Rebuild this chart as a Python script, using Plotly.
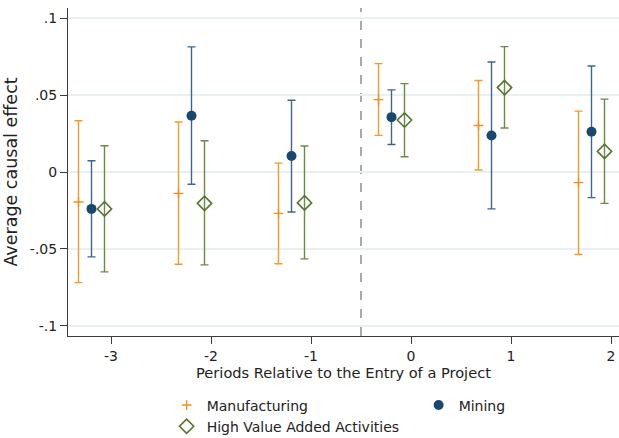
import plotly.graph_objects as go

# Event-time periods relative to project entry
periods = [-3, -2, -1, 0, 1, 2]
tick_labels = ["-3", "-2", "-1", "0", "1", "2"]

# Manufacturing: point estimates and 95% CI bounds
manuf_est = [-0.0195, -0.0139, -0.0269, 0.0471, 0.0303, -0.0069]
manuf_lo = [-0.0720, -0.0600, -0.0597, 0.0238, 0.0013, -0.0537]
manuf_hi = [0.0333, 0.0325, 0.0058, 0.0705, 0.0595, 0.0396]

# Mining
mining_est = [-0.0240, 0.0366, 0.0104, 0.0357, 0.0238, 0.0262]
mining_lo = [-0.0552, -0.0080, -0.0260, 0.0179, -0.0240, -0.0167]
mining_hi = [0.0073, 0.0814, 0.0467, 0.0534, 0.0716, 0.0690]

# High value added activities
hva_est = [-0.0240, -0.0204, -0.0201, 0.0338, 0.0549, 0.0134]
hva_lo = [-0.0650, -0.0604, -0.0565, 0.0099, 0.0286, -0.0204]
hva_hi = [0.0171, 0.0203, 0.0169, 0.0575, 0.0816, 0.0474]

FONT = "DejaVu Sans, Verdana, sans-serif"
AXIS_COLOR = "#3c3c3c"
GRID_COLOR = "#e8f0f2"
REF_COLOR = "#a0a0a0"

series = [
    dict(name="Manufacturing", est=manuf_est, lo=manuf_lo, hi=manuf_hi,
         shift=-0.325, bar="#f59a2a",
         marker=dict(symbol="cross-thin-open", size=7, color="#f28e1c",
                     line=dict(width=1.4, color="#f28e1c"))),
    dict(name="Mining", est=mining_est, lo=mining_lo, hi=mining_hi,
         shift=-0.195, bar="#3d668f",
         marker=dict(symbol="circle", size=10, color="#1a476f",
                     line=dict(width=0))),
    dict(name="High Value Added Activities", est=hva_est, lo=hva_lo, hi=hva_hi,
         shift=-0.065, bar="#6a8a45",
         marker=dict(symbol="diamond-open", size=11, color="#55752f",
                     line=dict(width=1.6, color="#55752f"))),
]

fig = go.Figure()
for s in series:
    x = [p + s["shift"] for p in periods]
    fig.add_trace(go.Scatter(
        x=x, y=s["est"], mode="markers", name=s["name"],
        marker=s["marker"],
        error_y=dict(type="data", symmetric=False,
                     array=[h - e for h, e in zip(s["hi"], s["est"])],
                     arrayminus=[e - l for e, l in zip(s["est"], s["lo"])],
                     color=s["bar"], thickness=1.4, width=4),
    ))

# Reference lines: zero effect and the entry boundary
fig.add_shape(type="line", xref="paper", x0=0, x1=1, yref="y", y0=0, y1=0,
              line=dict(color=REF_COLOR, width=1.5), layer="below")
fig.add_shape(type="line", xref="x", x0=-0.5, x1=-0.5, yref="paper", y0=0, y1=1,
              line=dict(color=REF_COLOR, width=1.8, dash="dash"), layer="below")

fig.update_layout(
    width=619, height=438,
    margin=dict(l=68, r=0, t=8, b=102, autoexpand=False),
    paper_bgcolor="white", plot_bgcolor="white",
    font=dict(family=FONT, size=14, color="#222222"),
    showlegend=True,
    legend=dict(orientation="h", x=0.179, xanchor="left", y=-0.163, yanchor="top",
                entrywidth=207, entrywidthmode="pixels",
                font=dict(size=14, color="#222222"), bgcolor="rgba(0,0,0,0)",
                traceorder="normal"),
    xaxis=dict(range=[-3.43, 2.08], tickvals=periods, ticktext=tick_labels,
               showgrid=False, zeroline=False,
               showline=True, linecolor=AXIS_COLOR, linewidth=1,
               ticks="outside", ticklen=7, tickcolor=AXIS_COLOR,
               tickfont=dict(size=14),
               title=dict(text="Periods Relative to the Entry of a Project",
                          standoff=0, font=dict(size=14.6))),
    yaxis=dict(range=[-0.1067, 0.1067], tickvals=[-0.1, -0.05, 0, 0.05, 0.1],
               ticktext=["-.1", "-.05", "0", ".05", ".1"],
               showgrid=True, gridcolor=GRID_COLOR, gridwidth=1.5, zeroline=False,
               showline=True, linecolor=AXIS_COLOR, linewidth=1,
               ticks="outside", ticklen=7, tickcolor=AXIS_COLOR,
               tickfont=dict(size=14),
               title=dict(text="Average causal effect", standoff=7,
                          font=dict(size=17.5))),
)

fig.write_html("out.html")
